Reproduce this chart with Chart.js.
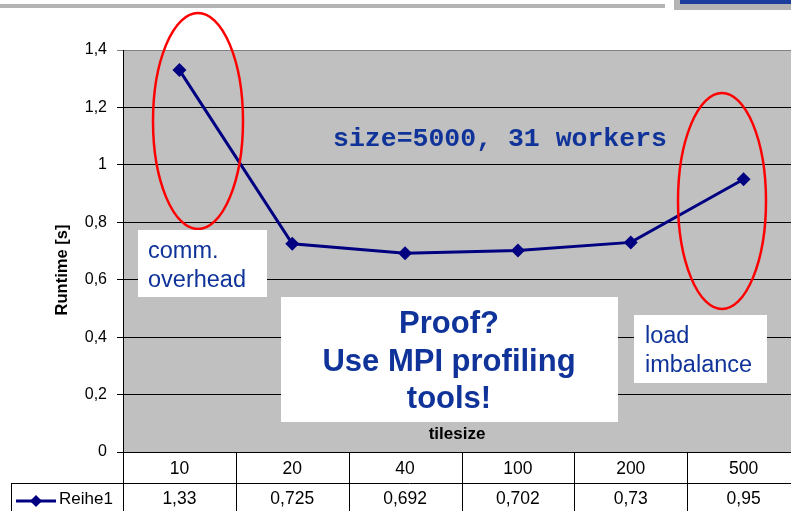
<!DOCTYPE html>
<html>
<head>
<meta charset="utf-8">
<script src="https://cdn.jsdelivr.net/npm/chart.js@4/dist/chart.umd.min.js"></script>
<style>
  html, body { margin: 0; padding: 0; background: #fff; }
  #wrap { width: 791px; height: 511px; overflow: hidden; position: relative; }
  canvas { display: block; }
</style>
</head>
<body>
<div id="wrap"><canvas id="chart" width="807" height="511"></canvas></div>
<script>
// data
const tilesizes = ['10', '20', '40', '100', '200', '500']
const runtimes = [1.33, 0.725, 0.692, 0.702, 0.73, 0.95]
const seriesName = 'Reihe1'
const yTicks = [0, 0.2, 0.4, 0.6, 0.8, 1, 1.2, 1.4]

const FONT = '"Liberation Sans", Arial, sans-serif'
const NAVY = '#000080'
const TEXTBLUE = '#0f3399'

function fmt(v) {
    return String(Math.round(v * 1000) / 1000).replace('.', ',')
}

// all the extra drawing: background, data table, notes
const extras = {
    id: 'extras',
    beforeDraw(chart) {
        const {ctx, chartArea} = chart
        ctx.save()
        ctx.fillStyle = '#c0c0c0'
        ctx.fillRect(chartArea.left, chartArea.top, chartArea.right - chartArea.left, chartArea.bottom - chartArea.top)
        // slide decoration at the top
        ctx.fillStyle = '#b4b4b4'
        ctx.fillRect(0, 4, 665, 4)
        ctx.fillRect(674, 0, 140, 10)
        ctx.fillStyle = '#1c3d9c'
        ctx.fillRect(680, 0, 140, 4)
        ctx.restore()
    },
    afterDraw(chart) {
        const {ctx, chartArea} = chart
        const x = chart.scales.x
        const step = x.getPixelForValue(1) - x.getPixelForValue(0)
        const rowY = 483
        ctx.save()

        // data table
        ctx.strokeStyle = '#000'
        ctx.lineWidth = 1
        ctx.beginPath()
        for (let i = 0; i <= tilesizes.length; i++) {
            const px = Math.round(x.getPixelForValue(0) - step / 2 + i * step) + 0.5
            ctx.moveTo(px, chartArea.bottom)
            ctx.lineTo(px, 511)
        }
        ctx.moveTo(11, rowY + 0.5)
        ctx.lineTo(810, rowY + 0.5)
        ctx.moveTo(11.5, rowY)
        ctx.lineTo(11.5, 511)
        ctx.moveTo(chartArea.left, chartArea.bottom + 0.5)
        ctx.lineTo(810, chartArea.bottom + 0.5)
        ctx.stroke()

        ctx.font = '17.5px ' + FONT
        ctx.fillStyle = '#000'
        ctx.textAlign = 'center'
        ctx.textBaseline = 'middle'
        runtimes.forEach((v, i) => {
            ctx.fillText(fmt(v), x.getPixelForValue(i), 499)
        })
        // legend key in the table
        ctx.strokeStyle = NAVY
        ctx.lineWidth = 3
        ctx.beginPath()
        ctx.moveTo(16, 501)
        ctx.lineTo(56, 501)
        ctx.stroke()
        ctx.fillStyle = NAVY
        ctx.beginPath()
        ctx.moveTo(36, 495); ctx.lineTo(42, 501); ctx.lineTo(36, 507); ctx.lineTo(30, 501)
        ctx.closePath()
        ctx.fill()
        ctx.fillStyle = '#000'
        ctx.textAlign = 'left'
        ctx.font = '17px ' + FONT
        ctx.fillText(seriesName, 59, 499)

        // axis titles
        ctx.font = 'bold 17px ' + FONT
        ctx.textAlign = 'center'
        ctx.fillText('tilesize', 457, 434)
        ctx.save()
        ctx.translate(62, 270)
        ctx.rotate(-Math.PI / 2)
        ctx.font = 'bold 16.5px ' + FONT
        ctx.fillText('Runtime [s]', 0, 0)
        ctx.restore()

        // red ellipses
        ctx.strokeStyle = '#ff0000'
        ctx.lineWidth = 2.5
        ctx.beginPath()
        ctx.ellipse(198, 121, 45, 108, 0, 0, Math.PI * 2)
        ctx.stroke()
        ctx.beginPath()
        ctx.ellipse(722, 201, 44, 108, 0, 0, Math.PI * 2)
        ctx.stroke()

        // note boxes
        ctx.fillStyle = '#fff'
        ctx.fillRect(138, 230, 129, 67)
        ctx.fillRect(281, 297, 337, 125)
        ctx.fillRect(634, 315, 133, 68)

        ctx.fillStyle = TEXTBLUE
        ctx.textBaseline = 'alphabetic'
        ctx.textAlign = 'left'
        ctx.font = '23.5px ' + FONT
        ctx.fillText('comm.', 148, 258)
        ctx.fillText('overhead', 148, 287)
        ctx.fillText('load', 645, 343)
        ctx.fillText('imbalance', 645, 372)

        ctx.textAlign = 'center'
        ctx.font = 'bold 31px ' + FONT
        ctx.fillText('Proof?', 449, 333)
        ctx.fillText('Use MPI profiling', 449, 371)
        ctx.fillText('tools!', 449, 408)

        ctx.font = 'bold 26.5px "Liberation Mono", "Courier New", monospace'
        ctx.textBaseline = 'middle'
        ctx.fillText('size=5000, 31 workers', 500, 139)
        ctx.restore()
    }
}

Chart.defaults.font.family = FONT
Chart.defaults.color = '#000'

const ctx = document.getElementById('chart').getContext('2d')
const chart = new Chart(ctx, {
    type: 'line',
    data: {
        labels: tilesizes,
        datasets: [{
            label: seriesName,
            data: runtimes,
            borderColor: NAVY,
            backgroundColor: NAVY,
            borderWidth: 3,
            pointStyle: 'rectRot',
            pointRadius: 7,
            pointBackgroundColor: NAVY,
            pointBorderColor: NAVY,
            pointBorderWidth: 0,
            tension: 0
        }]
    },
    options: {
        responsive: false,
        animation: false,
        devicePixelRatio: 1,
        layout: { padding: { left: 0, right: 0, top: 50, bottom: 0 } },
        plugins: {
            legend: { display: false },
            tooltip: { enabled: false },
            title: { display: false }
        },
        scales: {
            x: {
                offset: true,
                afterFit: (s) => { s.height = 59 },
                grid: { display: false, drawOnChartArea: false, drawTicks: false },
                border: { display: false },
                ticks: { font: { size: 17.5 }, color: '#000', padding: 7, maxRotation: 0 }
            },
            y: {
                min: 0,
                max: 1.4,
                afterFit: (s) => { s.width = 123 },
                afterBuildTicks: (s) => { s.ticks = yTicks.map(v => ({ value: v })) },
                grid: {
                    color: (c) => (c.tick && c.tick.value === 1.4) ? '#808080' : '#000',
                    lineWidth: 1,
                    tickLength: 6,
                    drawTicks: true
                },
                border: { display: true, color: '#000', width: 1 },
                ticks: {
                    font: { size: 16 },
                    color: '#000',
                    padding: 10,
                    callback: (v) => fmt(v)
                }
            }
        }
    },
    plugins: [extras]
})
</script>
</body>
</html>
